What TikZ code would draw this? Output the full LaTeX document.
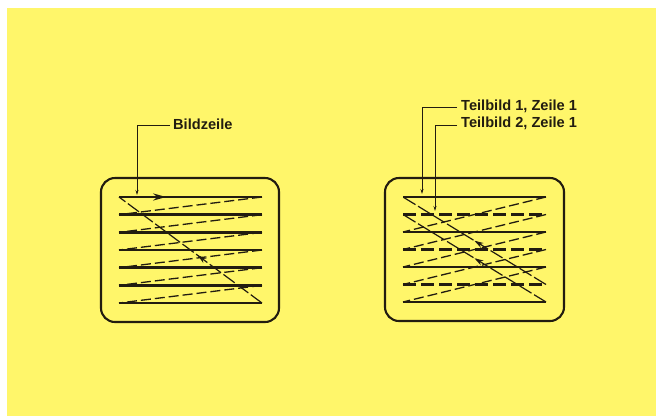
\documentclass[tikz,border=0pt]{standalone}
\usepackage{fontspec}
\setmainfont{Liberation Sans}
\usetikzlibrary{arrows.meta,decorations.markings}
\definecolor{paper}{RGB}{255,246,106}
\definecolor{ink}{RGB}{34,28,16}
\tikzset{
  scanline/.style={ink, line width=2.8pt},
  scandash/.style={ink, line width=2.8pt, dash pattern=on 13pt off 5pt},
  retrace/.style={ink, line width=1.3pt, dash pattern=on 10pt off 4pt},
  vretrace/.style={ink, line width=1.2pt, dash pattern=on 14pt off 3pt},
  screen/.style={ink, line width=2.1pt, rounded corners=14pt},
  leader/.style={ink, line width=1pt, -{Stealth[length=5pt,width=3pt]}},
  label/.style={font=\fontsize{14.6}{17}\selectfont\bfseries, text=ink, inner sep=0pt, anchor=base west},
  midarrow/.style={postaction={decorate, decoration={markings,
      mark=at position #1 with {\pgfsetdash{}{0pt}\arrow{Stealth[length=9pt,width=5.5pt]}}}}},
  bigarrow/.style={postaction={decorate, decoration={markings,
      mark=at position #1 with {\pgfsetdash{}{0pt}\arrow{Stealth[length=13pt,width=7pt]}}}}},
}
\begin{document}
\begin{tikzpicture}[x=1pt,y=-1pt]
  \useasboundingbox (0,0) rectangle (656,416);
  \fill[white] (0,0) rectangle (656,416);
  \fill[paper] (7,8) rectangle (656,416);

  % ---------- progressive scan: one picture line after the other ----------
  \draw[screen] (101,178) rectangle (279,322);
  \foreach \i in {1,...,7} {
    \coordinate (a\i) at (119,{197+(\i-1)*17.67});
    \coordinate (b\i) at (262,{197+(\i-1)*17.67});
  }
  \draw[scanline, bigarrow=0.33] (a1) -- (b1);
  \foreach \i in {2,...,7} \draw[scanline] (a\i) -- (b\i);
  \foreach \i/\j in {1/2,2/3,3/4,4/5,5/6,6/7} \draw[retrace] (b\i) -- (a\j);
  \draw[vretrace, midarrow=0.45] (b7) -- (a1);

  \node[label] (bz) at (173,129.5) {Bildzeile};
  \coordinate (bzend) at (137,195);
  \draw[leader] ([xshift=-3pt,yshift=-1.5pt]bz.west) -| (bzend);

  % ---------- interlaced scan: two fields ----------
  \draw[screen] (385,178) rectangle (564,321);
  \foreach \i in {1,...,7} {
    \coordinate (c\i) at (403,{197+(\i-1)*17.5});
    \coordinate (d\i) at (546,{197+(\i-1)*17.5});
  }
  \foreach \i in {1,3,5,7} \draw[scanline] (c\i) -- (d\i);
  \foreach \i in {2,4,6} \draw[scandash] (c\i) -- (d\i);
  \foreach \i/\j in {1/3,3/5,5/7,2/4,4/6} \draw[retrace] (d\i) -- (c\j);
  \draw[vretrace, midarrow=0.5] (d6) -- (c1);
  \draw[vretrace, midarrow=0.5] (d7) -- (c2);

  \node[label] (tb1) at (461,110) {Teilbild 1, Zeile 1};
  \node[label] (tb2) at (461,127.7) {Teilbild 2, Zeile 1};
  \coordinate (tb1end) at (422,194);
  \coordinate (tb2end) at (435,211);
  \draw[leader] ([xshift=-4pt,yshift=-1.5pt]tb1.west) -| (tb1end);
  \draw[leader] ([xshift=-4pt,yshift=-1.5pt]tb2.west) -| (tb2end);
\end{tikzpicture}
\end{document}
